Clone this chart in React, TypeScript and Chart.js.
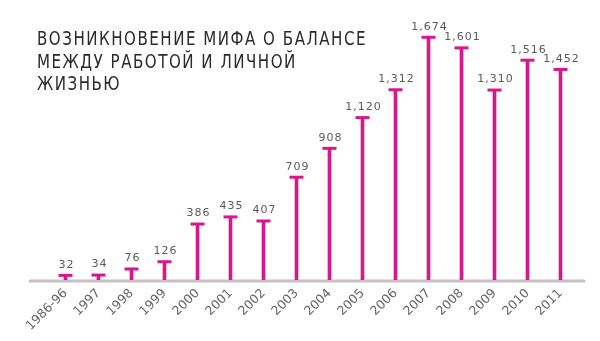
import React, { useEffect, useRef } from "react";
import { Chart, registerables } from "chart.js";

Chart.register(...registerables);

const categories = ["1986-96", "1997", "1998", "1999", "2000", "2001", "2002", "2003", "2004", "2005", "2006", "2007", "2008", "2009", "2010", "2011"];
const values = [32, 34, 76, 126, 386, 435, 407, 709, 908, 1120, 1312, 1674, 1601, 1310, 1516, 1452];
const titleLines = ["ВОЗНИКНОВЕНИЕ МИФА О БАЛАНСЕ", "МЕЖДУ РАБОТОЙ И ЛИЧНОЙ", "ЖИЗНЬЮ"];

const MAGENTA = "#d6188c";
const AXIS = "#c8c0c4";
const TEXT = "#5a5a5a";

const fmt = (v: number) => v.toLocaleString("en-US");

const decorPlugin = {
  id: "decor",
  beforeDatasetsDraw(chart: any) {
    const { ctx, chartArea } = chart;
    ctx.save();
    ctx.strokeStyle = AXIS;
    ctx.lineWidth = 3;
    ctx.lineCap = "round";
    ctx.beginPath();
    ctx.moveTo(chartArea.left - 19, chartArea.bottom + 1);
    ctx.lineTo(chartArea.right + 7, chartArea.bottom + 1);
    ctx.stroke();
    ctx.restore();
  },
  afterDatasetsDraw(chart: any) {
    const { ctx } = chart;
    const meta = chart.getDatasetMeta(1);
    ctx.save();
    ctx.fillStyle = TEXT;
    ctx.font = '11px "DejaVu Sans"';
    ctx.textAlign = "center";
    ctx.textBaseline = "bottom";
    (ctx as any).letterSpacing = "1px";
    meta.data.forEach((pt: any, i: number) => {
      ctx.fillText(fmt(values[i]), pt.x + 1, pt.y - 5);
    });
    ctx.restore();
  },
  afterDraw(chart: any) {
    const { ctx } = chart;
    ctx.save();
    ctx.fillStyle = "#2a2a2a";
    ctx.font = '20px "DejaVu Sans"';
    ctx.textAlign = "left";
    ctx.textBaseline = "alphabetic";
    (ctx as any).letterSpacing = "2px";
    const w = ctx.measureText(titleLines[0]).width;
    const sx = 330 / w;
    const baselines = [45, 68, 90];
    titleLines.forEach((line, i) => {
      ctx.save();
      ctx.translate(37, baselines[i]);
      ctx.scale(sx, 1);
      ctx.fillText(line, 0, 0);
      ctx.restore();
    });
    ctx.restore();
  },
};

export default function App() {
  const ref = useRef<HTMLCanvasElement | null>(null);
  useEffect(() => {
    if (!ref.current) return;
    const chart = new Chart(ref.current, {
      type: "bar",
      data: {
        labels: categories,
        datasets: [
          {
            type: "bar",
            data: values,
            backgroundColor: MAGENTA,
            borderWidth: 0,
            barThickness: 3,
            order: 2,
          } as any,
          {
            type: "line",
            data: values,
            showLine: false,
            pointStyle: "line",
            pointRadius: 7,
            pointHoverRadius: 7,
            pointBorderWidth: 3,
            pointBorderColor: MAGENTA,
            pointBackgroundColor: MAGENTA,
            order: 1,
          } as any,
        ],
      },
      options: {
        responsive: true,
        maintainAspectRatio: false,
        animation: false,
        layout: { padding: { left: 49, right: 23, top: 19, bottom: 0 } },
        plugins: { legend: { display: false }, tooltip: { enabled: false }, title: { display: false } },
        scales: {
          x: {
            grid: { display: false, drawTicks: false },
            border: { display: false },
            ticks: {
              color: "#666",
              font: { family: "DejaVu Sans", size: 12.5 },
              minRotation: 45,
              maxRotation: 45,
              padding: 6,
              autoSkip: false,
            },
            afterFit: (scale: any) => {
              scale.height = 61;
              scale.paddingLeft = 0;
              scale.paddingRight = 0;
            },
          },
          y: { display: false, min: 0, max: 1800 },
        },
      },
      plugins: [decorPlugin],
    });
    return () => chart.destroy();
  }, []);
  return (
    <div style={{ position: "fixed", left: 0, top: 0, width: 600, height: 341, background: "#fff" }}>
      <canvas ref={ref} />
    </div>
  );
}
